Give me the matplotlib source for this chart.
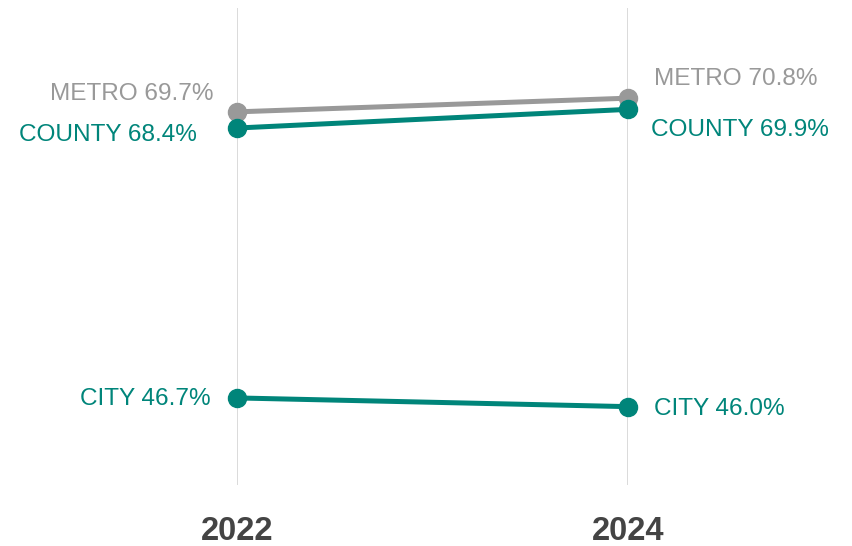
import matplotlib.pyplot as plt

# === data ===
years = [2022, 2024]
year_labels = ['2022', '2024']
metro = [69.7, 70.8]
county = [68.4, 69.9]
city = [46.7, 46.0]

teal = '#00857a'
gray = '#999999'

plt.rcParams['font.family'] = ['Liberation Sans', 'DejaVu Sans']

fig = plt.figure(figsize=(8.52, 5.46), dpi=100)
ax = fig.add_axes([237 / 852, 61 / 546, 391 / 852, 477 / 546])
ax.set_xlim(2022, 2024)
ax.set_ylim(39.7, 78.05)

# vertical guides at each year
for yr in years:
    ax.axvline(yr, color='#dadada', lw=1.4, zorder=0)

# lines
ax.plot(years, metro, color=gray, lw=3.6, marker='o', ms=13, clip_on=False, zorder=2)
ax.plot(years, county, color=teal, lw=3.6, marker='o', ms=13, clip_on=False, zorder=3)
ax.plot(years, city, color=teal, lw=3.6, marker='o', ms=13, clip_on=False, zorder=3)

# labels (offsets in pixels)
series = [
    ('METRO', metro, gray, [(-24, 18), (26, 19)]),
    ('COUNTY', county, teal, [(-40, -7), (23, -21)]),
    ('CITY', city, teal, [(-26, -1), (26, -2)]),
]
for name, vals, col, offs in series:
    for i, (yr, v) in enumerate(zip(years, vals)):
        ha = 'right' if i == 0 else 'left'
        ax.annotate(f'{name} {v:.1f}%', (yr, v), xytext=offs[i],
                    textcoords='offset pixels', ha=ha, va='center',
                    fontsize=17.6, color=col, annotation_clip=False)

ax.set_xticks(years)
ax.set_xticklabels(year_labels, fontsize=23.5, fontweight='bold', color='#444444')
ax.tick_params(axis='x', length=0, pad=22)
ax.set_yticks([])
for s in ax.spines.values():
    s.set_visible(False)

plt.savefig('out.png', dpi=100)
